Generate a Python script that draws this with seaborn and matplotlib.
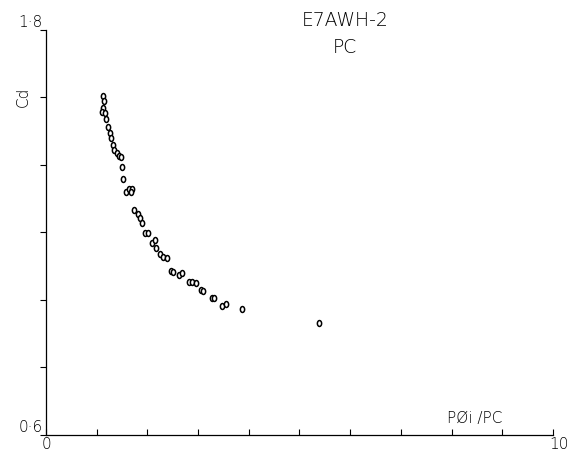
import numpy as np
import pandas as pd
from matplotlib import pyplot as plt
from matplotlib.path import Path
import seaborn as sns

# values
p_ratio = [1.12, 1.14, 1.12, 1.11, 1.16, 1.18, 1.22, 1.26, 1.28, 1.32,
           1.34, 1.40, 1.44, 1.48, 1.50, 1.52, 1.58, 1.64, 1.70, 1.68,
           1.74, 1.82, 1.85, 1.89, 1.95, 2.01, 2.09, 2.15, 2.17, 2.25,
           2.31, 2.39, 2.47, 2.51, 2.62, 2.68, 2.82, 2.88, 2.96, 3.06,
           3.10, 3.27, 3.31, 3.47, 3.55, 3.87, 5.39]
cd = [1.603, 1.591, 1.568, 1.556, 1.553, 1.535, 1.514, 1.494, 1.479, 1.458,
      1.443, 1.435, 1.426, 1.423, 1.393, 1.358, 1.319, 1.328, 1.328, 1.319,
      1.266, 1.254, 1.242, 1.227, 1.198, 1.198, 1.168, 1.177, 1.153, 1.136,
      1.127, 1.124, 1.085, 1.082, 1.074, 1.079, 1.053, 1.053, 1.050, 1.029,
      1.026, 1.005, 1.005, 0.982, 0.988, 0.973, 0.931]

x_ticks = list(range(0, 11))
y_ticks = [0.6, 0.8, 1.0, 1.2, 1.4, 1.6, 1.8]

sns.set_style("white")
plt.rcParams['font.family'] = ['DejaVu Sans']

df = pd.DataFrame({'p_ratio': p_ratio, 'cd': cd})

# narrow open ring, like the plotter's marker
t = np.linspace(0, 2 * np.pi, 41)
ring = Path(np.column_stack([0.72 * np.cos(t), np.sin(t)]), closed=True)

fig = plt.figure(figsize=(5.72, 4.55), dpi=100)
ax = fig.add_axes([0.0804, 0.044, 0.8864, 0.8901])

sns.scatterplot(data=df, x='p_ratio', y='cd', ax=ax, marker=ring, s=18,
                facecolor='white', edgecolor='black', linewidth=1.1,
                legend=False)

ax.set_xlim(0, 10)
ax.set_ylim(0.6, 1.8)
sns.despine(ax=ax)
for side in ['left', 'bottom']:
    ax.spines[side].set_color('black')
    ax.spines[side].set_linewidth(0.9)

ax.set_xticks(x_ticks)
ax.set_yticks(y_ticks)
ax.set_xticklabels([])
ax.set_yticklabels([])
ax.tick_params(axis='x', direction='in', length=4, width=0.8, color='black', bottom=True)
ax.tick_params(axis='y', direction='out', length=4, width=0.8, color='black', left=True)
ax.set_xlabel('')
ax.set_ylabel('')

txt = dict(color='black', fontsize=11, fontweight='light')
fig.text(0.075, 0.934, '1·8', ha='right', va='bottom', **txt)
fig.text(0.075, 0.044, '0·6', ha='right', va='bottom', **txt)
fig.text(0.0804, 0.040, '0', ha='center', va='top', **txt)
fig.text(0.995, 0.040, '10', ha='right', va='top', **txt)
fig.text(0.040, 0.787, 'Cd', ha='center', va='center', rotation=90, **txt)
fig.text(0.830, 0.080, 'PØi /PC', ha='center', va='center', **txt)
fig.text(0.603, 0.955, 'E7AWH-2', ha='center', va='center', color='black',
         fontsize=13.5, fontweight='light')
fig.text(0.603, 0.895, 'PC', ha='center', va='center', color='black',
         fontsize=13.5, fontweight='light')

fig.savefig('out.png', dpi=100)
